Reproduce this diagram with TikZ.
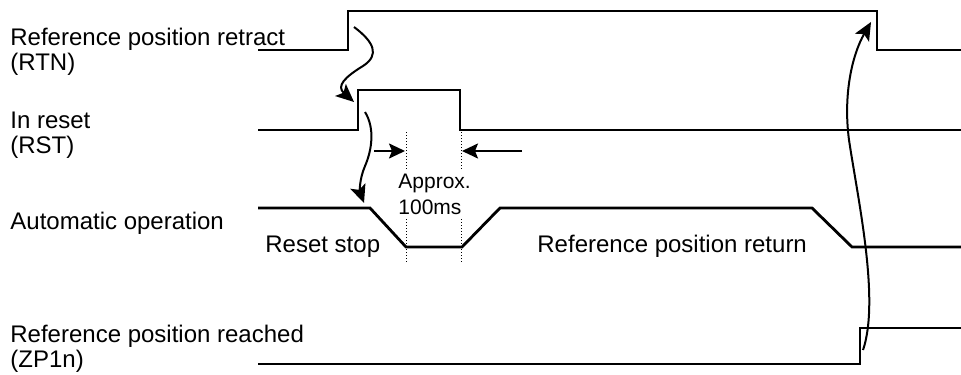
\documentclass[tikz,border=0pt]{standalone}
\usepackage{fontspec}
\setmainfont{Liberation Sans}
\usepackage{tikz}
\usetikzlibrary{arrows.meta,positioning,calc}
\definecolor{ink}{HTML}{000000}
\tikzset{
  siglabel/.style={anchor=base west,align=left,inner sep=0pt,font=\fontsize{12}{12.5}\selectfont},
  phaselabel/.style={anchor=base west,inner sep=0pt,font=\fontsize{12}{12.5}\selectfont},
  notelabel/.style={anchor=base west,align=left,fill=white,inner sep=2pt,font=\fontsize{10.5}{13}\selectfont},
  sigline/.style={draw=ink,line width=1.4pt},
  cause/.style={-{Stealth[length=9pt,width=8pt,inset=2pt]},draw=ink,line width=1pt},
  spanarrow/.style={-{Stealth[length=8pt,width=7.5pt,inset=1.5pt]},draw=ink,line width=1pt},
  guide/.style={draw=ink,line width=0.5pt,dash pattern=on 0.5pt off 1pt}
}
\begin{document}
\begin{tikzpicture}[x=0.5pt,y=-0.5pt]
  \useasboundingbox (0,0) rectangle (961,374);
  \node[siglabel] (rtn) at (10,70) {Reference position retract\\(RTN)};
  \node[siglabel] (rst) at (10,153) {In reset\\(RST)};
  \node[siglabel] (auto) at (10,229) {Automatic operation};
  \node[siglabel] (zp) at (10,367) {Reference position reached\\(ZP1n)};
  \node[phaselabel] (stop) at (265,252) {Reset stop};
  \node[phaselabel] (ret) at (537,252) {Reference position return};

  \begin{scope}
    \clip (0,0) rectangle (961,374);
    \draw[sigline] (258,50) -- (348,50) -- (348,11) -- (877,11) -- (877,50) -- (965,50);
    \draw[sigline] (258,130) -- (358,130) -- (358,90) -- (460,90) -- (460,130) -- (965,130);
    \draw[sigline] (258,208) -- (370,208) -- (406,247) -- (462,247) -- (500,208)
      -- (812,208) -- (852,247) -- (965,247);
    \draw[sigline] (258,364) -- (860,364) -- (860,328) -- (965,328);
  \end{scope}

  \coordinate (t1) at (406,132);
  \coordinate (t2) at (461,132);
  \draw[guide] (t1) -- ++(0,132);
  \draw[guide] (t2) -- ++(0,132);
  \node[notelabel] (approx) at (394,214) {Approx.\\100ms};
  \draw[spanarrow] ($(t1)+(-32,19)$) -- ($(t1)+(-1,19)$);
  \draw[spanarrow] ($(t2)+(61,19)$) -- ($(t2)+(1,19)$);

  \coordinate (rtnup) at (354,27);
  \coordinate (rstup) at (354,102);
  \coordinate (rston) at (365,112);
  \coordinate (autodn) at (364,203);
  \coordinate (zpup) at (863,350);
  \coordinate (rtndn) at (871,22);
  \draw[cause] (rtnup) .. controls (374,42) and (380,55) .. (363,66)
    .. controls (345,77) and (336,86) .. (rstup);
  \draw[cause] (rston) .. controls (375,128) and (372,150) .. (365,166)
    .. controls (359,180) and (360,192) .. (autodn);
  \draw[cause] (zpup) .. controls (880,300) and (858,200) .. (849,140)
    .. controls (843,95) and (852,55) .. (rtndn);
\end{tikzpicture}
\end{document}
